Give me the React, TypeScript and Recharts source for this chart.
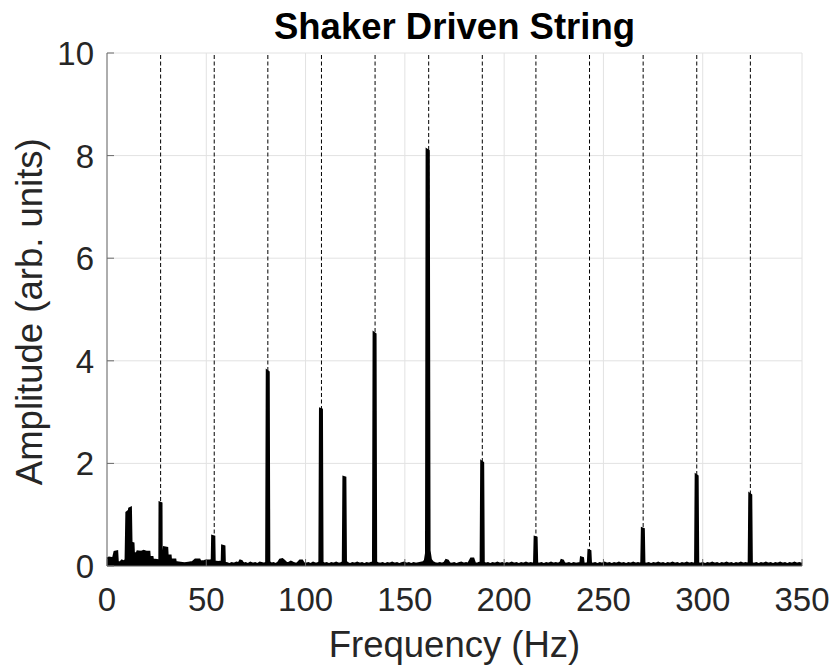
import React from "react";
import { ComposedChart, Area, XAxis, YAxis, CartesianGrid, ReferenceLine } from "recharts";

const xTicks = [0, 50, 100, 150, 200, 250, 300, 350];
const yTicks = [0, 2, 4, 6, 8, 10];
// string harmonics (dashed guides)
const harmonicsHz = [27, 54, 81, 108, 135, 162, 189, 216, 243, 270, 297, 324];

// [frequency Hz, amplitude] envelope, split by band
const lowBand: [number, number][] = [
  [0, 0.14], [1, 0.16], [2.2, 0.15], [3, 0.12], [3.9, 0.27], [5, 0.28], [5.3, 0.08], [6.5, 0.06], [7.5, 0.1],
  [8.5, 0.08], [9.5, 0.12], [9.9, 1.04], [10.6, 1.06], [11.1, 1.05], [11.3, 1.12], [11.9, 1.13], [12.2, 0.45],
  [13.2, 0.44], [13.4, 0.25], [15, 0.24], [15.4, 0.28], [17, 0.27], [18.5, 0.29], [20, 0.27], [21.2, 0.27],
  [21.4, 0.17], [22.8, 0.17], [23, 0.12], [25.2, 0.11], [25.6, 0.1], [26.5, 0.12], [26.6, 1.23], [27.3, 1.22],
  [27.4, 0.12], [28.3, 0.12], [28.8, 0.36], [30.2, 0.35], [30.4, 0.2], [31.9, 0.2], [32.1, 0.12], [34.3, 0.12],
  [34.5, 0.07], [37, 0.06], [39, 0.05], [41, 0.06], [43, 0.07], [44.5, 0.12], [46.5, 0.12], [47, 0.08],
  [49, 0.09], [50, 0.1], [52, 0.1], [52.9, 0.12], [53.1, 0.58], [53.9, 0.57], [54.1, 0.08], [56, 0.07],
  [57.9, 0.08], [58.1, 0.39], [59, 0.38], [59.2, 0.06],
];

const midBand: [number, number][] = [
  [60.5, 0.05], [61.6, 0.03], [62.8, 0.05], [64, 0.04], [65.2, 0.06], [66.4, 0.05], [67.1, 0.1], [67.8, 0.09],
  [68.6, 0.04], [69.8, 0.05], [71, 0.03], [72.2, 0.06], [73.4, 0.04], [74.6, 0.05], [75.8, 0.03], [77, 0.06],
  [78.2, 0.05], [79.4, 0.04], [80.3, 0.07], [80.6, 3.8], [81.3, 3.78], [81.6, 0.08], [82.6, 0.04], [83.8, 0.05],
  [85, 0.03], [86.2, 0.06], [87.2, 0.12], [88.3, 0.13], [89.2, 0.1], [90.2, 0.06], [91.4, 0.05], [92.6, 0.08],
  [93.6, 0.06], [94.8, 0.04], [96, 0.05], [97.2, 0.1], [98.2, 0.1], [99, 0.05], [100.2, 0.04], [101.4, 0.05],
  [102.6, 0.03], [103.8, 0.06], [105, 0.04], [106.2, 0.05], [107.1, 0.07], [107.4, 3.06], [108.1, 3.05], [108.4, 0.07],
  [109.4, 0.04], [110.6, 0.05], [111.8, 0.03], [113, 0.05], [114.2, 0.04], [115.4, 0.06], [116.6, 0.04], [117.8, 0.05],
  [118.9, 0.07], [119.2, 1.73], [119.9, 1.72], [120.2, 0.08], [121.2, 0.05], [122.4, 0.03], [123.6, 0.05], [124.8, 0.04],
  [126, 0.06], [127.2, 0.04], [128.4, 0.05], [129.6, 0.03], [130.8, 0.05], [132, 0.04], [133.2, 0.06], [134.1, 0.07],
  [134.4, 4.54], [135.1, 4.52], [135.4, 0.07], [136.4, 0.05], [137.6, 0.04], [138.8, 0.05], [140, 0.03], [141.2, 0.05],
  [142.4, 0.04], [143.6, 0.06], [144.8, 0.04], [146, 0.05], [147.2, 0.03], [148.4, 0.05], [149.6, 0.06], [150.8, 0.04],
  [152, 0.05], [153.2, 0.03], [154.4, 0.05], [155.6, 0.04], [156.8, 0.05], [158, 0.06], [159.2, 0.07], [160.2, 0.1],
  [160.8, 0.25], [161.1, 8.11], [161.9, 8.09], [162.3, 0.3], [163, 0.12], [164, 0.07], [165.2, 0.05], [166.4, 0.04],
  [167.6, 0.05], [168.8, 0.04], [170, 0.06], [170.8, 0.11], [171.6, 0.1], [172.4, 0.05], [173.6, 0.04], [174.8, 0.05],
  [176, 0.03], [177.2, 0.05], [178.4, 0.06], [179.6, 0.04], [180.8, 0.05], [182, 0.04], [183.4, 0.14], [184.4, 0.14],
  [185.2, 0.05], [186.4, 0.04], [187.6, 0.06], [188.3, 0.07], [188.6, 2.03], [189.3, 2.01], [189.6, 0.07], [190.6, 0.04],
  [191.8, 0.05], [193, 0.03], [194.2, 0.05], [195.4, 0.04], [196.6, 0.06], [197.8, 0.04], [199, 0.05],
];

const highBand: [number, number][] = [
  [200.2, 0.03], [201.4, 0.05], [202.6, 0.04], [203.8, 0.06], [205, 0.04], [206.2, 0.05], [207.4, 0.03], [208.6, 0.05],
  [209.8, 0.04], [211, 0.06], [212.2, 0.04], [213.4, 0.05], [214.6, 0.04], [215.2, 0.06], [215.5, 0.56], [216.2, 0.55],
  [216.5, 0.05], [217.6, 0.04], [218.8, 0.05], [220, 0.03], [221.2, 0.05], [222.4, 0.04], [223.6, 0.06], [224.8, 0.04],
  [226, 0.05], [227.2, 0.04], [228.4, 0.06], [228.9, 0.11], [229.6, 0.1], [230.2, 0.05], [231.4, 0.04], [232.6, 0.05],
  [233.8, 0.03], [235, 0.05], [236.2, 0.04], [237.4, 0.05], [238.5, 0.05], [238.8, 0.16], [239.6, 0.15], [239.9, 0.05],
  [240.8, 0.04], [241.8, 0.05], [242.3, 0.06], [242.6, 0.3], [243.3, 0.29], [243.6, 0.05], [244.6, 0.04], [245.8, 0.05],
  [247, 0.03], [248.2, 0.05], [249.4, 0.04], [250.6, 0.06], [251.8, 0.04], [253, 0.05], [254.2, 0.03], [255.4, 0.05],
  [256.6, 0.04], [257.8, 0.06], [259, 0.04], [260.2, 0.05], [261.4, 0.03], [262.6, 0.05], [263.8, 0.04], [265, 0.06],
  [266.2, 0.04], [267.4, 0.05], [268.6, 0.04], [269.2, 0.06], [269.5, 0.73], [270.2, 0.72], [270.5, 0.05], [271.6, 0.04],
  [272.8, 0.05], [274, 0.03], [275.2, 0.05], [276.4, 0.04], [277.6, 0.06], [278.8, 0.04], [280, 0.05], [281.2, 0.03],
  [282.4, 0.05], [283.6, 0.04], [284.8, 0.06], [286, 0.04], [287.2, 0.05], [288.4, 0.03], [289.6, 0.05], [290.8, 0.04],
  [292, 0.06], [293.2, 0.04], [294.4, 0.05], [295.6, 0.04], [296.3, 0.06], [296.6, 1.77], [297.3, 1.75], [297.6, 0.05],
  [298.8, 0.04], [300, 0.05], [301.2, 0.03], [302.4, 0.05], [303.6, 0.04], [304.8, 0.06], [306, 0.04], [307.2, 0.05],
  [308.4, 0.03], [309.6, 0.05], [310.8, 0.04], [312, 0.06], [313.2, 0.04], [314.4, 0.05], [315.6, 0.03], [316.8, 0.05],
  [318, 0.04], [319.2, 0.06], [320.4, 0.04], [321.6, 0.05], [322.8, 0.04], [323.3, 0.06], [323.6, 1.4], [324.3, 1.38],
  [324.6, 0.05], [325.8, 0.04], [327, 0.05], [328.2, 0.03], [329.4, 0.05], [330.6, 0.04], [331.8, 0.06], [333, 0.04],
  [334.2, 0.05], [335.4, 0.03], [336.6, 0.05], [337.8, 0.04], [339, 0.06], [340.2, 0.04], [341.4, 0.05], [342.6, 0.03],
  [343.8, 0.05], [345, 0.04], [346.2, 0.06], [347.4, 0.04], [348.6, 0.05], [350, 0.04],
];

const data = [...lowBand, ...midBand, ...highBand].map(([f, a]) => ({ f, a }));

const W = 832;
const H = 666;
const FONT = '"Liberation Sans", Arial, Helvetica, sans-serif';
const INK = "#262626";
const FRAME = "#6a6a6a";
const TICK = 7;

function BottomTick({ x, y, payload }: any) {
  return (
    <g>
      <line x1={x} y1={y} x2={x} y2={y - TICK} stroke={FRAME} />
      <text x={x} y={y + 45} textAnchor="middle" fontSize={33} fill={INK} fontFamily={FONT}>
        {payload.value}
      </text>
    </g>
  );
}

function LeftTick({ x, y, payload }: any) {
  return (
    <g>
      <line x1={x} y1={y} x2={x + TICK} y2={y} stroke={FRAME} />
      <text x={x - 13} y={y + 12} textAnchor="end" fontSize={33} fill={INK} fontFamily={FONT}>
        {payload.value}
      </text>
    </g>
  );
}

function TopTick({ x, y }: any) {
  return <line x1={x} y1={y} x2={x} y2={y + TICK} stroke={FRAME} />;
}

function RightTick({ x, y }: any) {
  return <line x1={x} y1={y} x2={x - TICK} y2={y} stroke={FRAME} />;
}

export default function App() {
  return (
    <div style={{ position: "absolute", left: 0, top: 0, width: W, height: H, background: "#fff" }}>
      <ComposedChart width={W} height={H} data={data} margin={{ top: 53, right: 30, bottom: 0, left: 0 }}>
        <CartesianGrid stroke="#e2e2e2" />
        <XAxis
          dataKey="f"
          type="number"
          domain={[0, 350]}
          ticks={xTicks}
          interval={0}
          height={100}
          stroke={FRAME}
          tickSize={0}
          tickMargin={0}
          tick={BottomTick}
        />
        <XAxis
          xAxisId="top"
          orientation="top"
          dataKey="f"
          type="number"
          domain={[0, 350]}
          ticks={xTicks}
          interval={0}
          height={0}
          stroke={FRAME}
          tickSize={0}
          tickMargin={0}
          tick={TopTick}
        />
        <YAxis
          type="number"
          domain={[0, 10]}
          ticks={yTicks}
          interval={0}
          width={107}
          stroke={FRAME}
          tickSize={0}
          tickMargin={0}
          tick={LeftTick}
        />
        <YAxis
          yAxisId="right"
          orientation="right"
          type="number"
          domain={[0, 10]}
          ticks={yTicks}
          interval={0}
          width={0}
          stroke={FRAME}
          tickSize={0}
          tickMargin={0}
          tick={RightTick}
        />
        {harmonicsHz.map((h) => (
          <ReferenceLine key={h} x={h} stroke="#000" strokeWidth={1} strokeDasharray="4 2.5" />
        ))}
        {/* dense spectrum: draw it as a filled trace so the noise floor reads solid */}
        <Area
          type="linear"
          dataKey="a"
          stroke="#000"
          strokeWidth={2.6}
          fill="#000"
          fillOpacity={1}
          dot={false}
          activeDot={false}
          isAnimationActive={false}
        />
      </ComposedChart>
      <svg
        width={W}
        height={H}
        style={{ position: "absolute", left: 0, top: 0, pointerEvents: "none" }}
      >
        <text x={454.5} y={39} textAnchor="middle" fontSize={36.5} fontWeight="bold" fill="#000" fontFamily={FONT}>
          Shaker Driven String
        </text>
        <text x={454.5} y={657} textAnchor="middle" fontSize={36.5} fill={INK} fontFamily={FONT}>
          Frequency (Hz)
        </text>
        <text
          transform="translate(42,311.7) rotate(-90)"
          textAnchor="middle"
          fontSize={36.5}
          fill={INK}
          fontFamily={FONT}
        >
          Amplitude (arb. units)
        </text>
      </svg>
    </div>
  );
}
